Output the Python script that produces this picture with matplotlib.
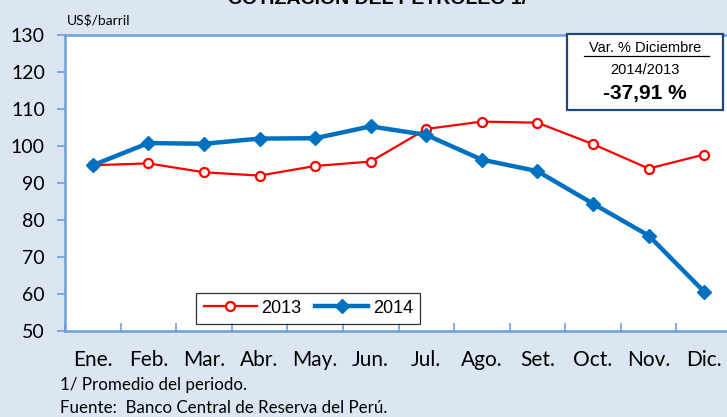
import matplotlib
matplotlib.use("Agg")
import matplotlib.pyplot as plt
import numpy as np

meses = ["Ene.", "Feb.", "Mar.", "Abr.", "May.", "Jun.", "Jul.", "Ago.", "Set.", "Oct.", "Nov.", "Dic."]
precio_2013 = [94.8, 95.3, 92.9, 92.0, 94.6, 95.8, 104.6, 106.6, 106.3, 100.5, 93.9, 97.7]
precio_2014 = [94.8, 100.8, 100.6, 102.0, 102.1, 105.3, 103.0, 96.3, 93.2, 84.4, 75.8, 60.6]
yticks = [50, 60, 70, 80, 90, 100, 110, 120, 130]

bg = "#DCE6F2"
eje = "#6F9FDB"

fig = plt.figure(figsize=(7.27, 4.17), dpi=100)
fig.patch.set_facecolor(bg)

W, H = 727, 417
ax = fig.add_axes([65 / W, (H - 331) / H, 667 / W, 296 / H])
ax.set_facecolor("white")

x = np.arange(len(meses))
ax.plot(x, precio_2013, color="#FF0000", lw=1.6, marker="o", ms=6.5,
        mfc="white", mec="#FF0000", mew=1.6, label="2013", zorder=3)
ax.plot(x, precio_2014, color="#0070C0", lw=3.2, marker="D", ms=7,
        mfc="#0070C0", mec="#0070C0", label="2014", zorder=4)

ax.set_xlim(-0.5, 11.5)
ax.set_ylim(50, 130)
ax.set_yticks(yticks)
ax.set_yticklabels([str(v) for v in yticks], fontsize=14, family="Lato")
ax.tick_params(axis="y", direction="out", length=6, width=1.2, color=eje, pad=8.5)

ax.set_xticks(x)
ax.set_xticklabels(meses, fontsize=15, family="Lato")
ax.tick_params(axis="x", which="major", length=0, pad=14)
ax.set_xticks(np.arange(-0.5, 12, 1), minor=True)
ax.tick_params(axis="x", which="minor", direction="in", length=6, width=1.2, color=eje)

for s in ["left", "bottom", "top"]:
    ax.spines[s].set_color(eje)
    ax.spines[s].set_linewidth(1.8)
ax.spines["right"].set_visible(False)

leg = ax.legend(loc="lower left", bbox_to_anchor=((196 - 65) / 665, 7 / 296), ncol=2,
                prop={"family": "Liberation Sans", "size": 13}, frameon=True,
                fancybox=False, edgecolor="black", handlelength=2.95,
                columnspacing=0.75, handletextpad=0.25, borderpad=0.4,
                borderaxespad=0)
leg.get_frame().set_linewidth(0.9)

# cuadro de variacion
bx0, by0, bx1, by1 = 567, 34, 723, 110
box = plt.Rectangle((bx0 / W, 1 - by1 / H), (bx1 - bx0) / W, (by1 - by0) / H,
                    transform=fig.transFigure, facecolor="white", edgecolor="#1F497D",
                    lw=1.6, zorder=5)
fig.patches.append(box)
cx = (bx0 + bx1) / 2 / W
fig.text(cx, 1 - 48 / H, "Var. % Diciembre", ha="center", va="center",
         fontsize=10.5, family="Liberation Sans", zorder=6)
fig.add_artist(plt.Line2D([584 / W, 709 / W], [1 - 56 / H, 1 - 56 / H],
                          transform=fig.transFigure, color="black", lw=0.9, zorder=6))
fig.text(cx, 1 - 70 / H, "2014/2013", ha="center", va="center",
         fontsize=10.5, family="Liberation Sans", zorder=6)
fig.text(cx, 1 - 93 / H, "-37,91 %", ha="center", va="center",
         fontsize=15, fontweight="bold", family="Liberation Sans", zorder=6)

fig.text(378 / W, 1 + 1 / H, "COTIZACIÓN DEL PETRÓLEO 1/", ha="center", va="center",
         fontsize=14, fontweight="bold", family="Liberation Sans")
fig.text(67 / W, 1 - 20 / H, "US$/barril", ha="left", va="center",
         fontsize=10, family="Lato")
fig.text(60 / W, 1 - 385 / H, "1/ Promedio del periodo.", ha="left", va="center",
         fontsize=12.2, family="Lato")
fig.text(60 / W, 1 - 408 / H, "Fuente:  Banco Central de Reserva del Perú.", ha="left",
         va="center", fontsize=12.2, family="Lato")

fig.savefig("out.png", dpi=100, facecolor=bg)
